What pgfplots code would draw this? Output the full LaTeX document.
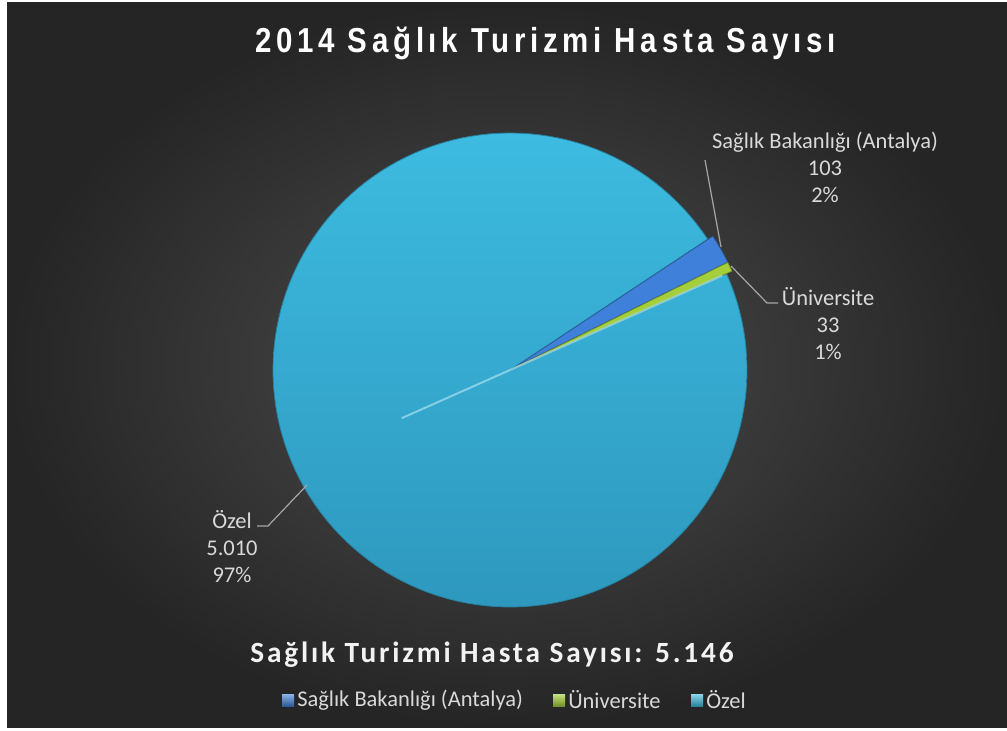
\documentclass[border=0pt]{standalone}
\usepackage{pgfplots}
\pgfplotsset{compat=1.18}
\usepackage{pgfplotstable}
\usepackage{fontspec}
\setmainfont{Carlito}
\newfontfamily\titlefam{Liberation Sans}[LetterSpace=16]
\newfontfamily\subfam{Carlito}[LetterSpace=9.6]
\definecolor{bgin}{HTML}{4D4D4D}
\definecolor{bgout}{HTML}{252525}
\definecolor{ozel}{HTML}{3DBBE0}
\definecolor{ozeldark}{HTML}{2E98BE}
\definecolor{saglik}{HTML}{3F80DA}
\definecolor{univ}{HTML}{A4CF3A}
\definecolor{lbl}{HTML}{D9D9D9}
\definecolor{leader}{HTML}{A6A6A6}

\pgfplotstableread{
label value
Saglik 103
Universite 33
Ozel 5010
}\piedata

\begin{document}
\begin{tikzpicture}
\pgfplotstablegetelem{0}{value}\of\piedata \pgfmathsetmacro\va{\pgfplotsretval}
\pgfplotstablegetelem{1}{value}\of\piedata \pgfmathsetmacro\vb{\pgfplotsretval}
\pgfplotstablegetelem{2}{value}\of\piedata \pgfmathsetmacro\vc{\pgfplotsretval}
\pgfmathsetmacro\tot{\va+\vb+\vc}
\pgfmathsetmacro\fa{\va/\tot}
\pgfmathsetmacro\fb{\vb/\tot}
\pgfmathsetmacro\fc{\vc/\tot}
\pgfmathsetmacro\aA{33.5}
\pgfmathsetmacro\aB{\aA-360*\fa}
\pgfmathsetmacro\aC{\aB-360*\fb}
\pgfmathsetmacro\aD{\aC-360*\fc}
\pgfmathsetmacro\mA{(\aA+\aB)/2}
\pgfmathsetmacro\mB{(\aB+\aC)/2}
\pgfmathsetmacro\dxA{0.025*cos(\mA)}
\pgfmathsetmacro\dyA{0.025*sin(\mA)}
\pgfmathsetmacro\dxB{0.025*cos(\mB)}
\pgfmathsetmacro\dyB{0.025*sin(\mB)}
\begin{scope}[x=0.75pt,y=-0.75pt]
\fill[white] (0,0) rectangle (1007,731);
\shade[inner color=bgin, outer color=bgout] (7,3) rectangle (1007,727);
\end{scope}
\begin{axis}[at={(382.5pt,-277.5pt)}, anchor=center, scale only axis,
  width=355.5pt, height=355.5pt, xmin=-1, xmax=1, ymin=-1, ymax=1,
  hide axis, clip=false]
\addplot[draw=ozeldark!85!black, line width=0.6pt, top color=ozel, bottom color=ozeldark, domain=\aD:\aC, samples=150] ({cos(x)},{sin(x)}) -- (0,0) -- cycle;
\addplot[draw=saglik!70!black, line width=0.5pt, fill=saglik, domain=\aB:\aA, samples=10] ({cos(x)+\dxA},{sin(x)+\dyA}) -- (\dxA,\dyA) -- cycle;
\addplot[draw=univ!70!black, line width=0.5pt, fill=univ, domain=\aC:\aB, samples=5] ({cos(x)+\dxB},{sin(x)+\dyB}) -- (\dxB,\dyB) -- cycle;
\addplot[draw=ozel!45!white, opacity=0.7, line width=1.5pt, domain=-0.5:0.98, samples=2, variable=\t] ({\t*cos(\aC)},{\t*sin(\aC)});
\end{axis}
\begin{scope}[x=0.75pt,y=-0.75pt]
% title
\node[white, font=\titlefam\bfseries\fontsize{26}{30}\selectfont] at (545.5,43) {\scalebox{0.85}[1]{2014 Sağlık Turizmi Hasta Sayısı}};
% leaders
\draw[leader, line width=0.9pt] (705,160) -- (721,247);
\draw[leader, line width=0.9pt] (731,266) -- (767,303) -- (778,303);
\draw[leader, line width=0.9pt] (307,485) -- (268,526) -- (257,526);
% labels
\node[lbl, align=center, font=\fontsize{16.85}{20.25}\selectfont] at (825,167) {Sağlık Bakanlığı (Antalya)\\103\\2\%};
\node[lbl, align=center, font=\fontsize{16.85}{20.25}\selectfont] at (828,324) {Üniversite\\33\\1\%};
\node[lbl, align=center, font=\fontsize{16.85}{20.25}\selectfont] at (232,547) {Özel\\5.010\\97\%};
% subtitle
\node[white!95!black, font=\subfam\bfseries\fontsize{22}{26}\selectfont] at (492,655) {Sağlık Turizmi Hasta Sayısı: 5.146};
% legend
\shade[top color=saglik!60!white, bottom color=saglik!70!black] (282,694) rectangle (294,706);
\shade[top color=univ!60!white, bottom color=univ!70!black] (553,694) rectangle (565,706);
\shade[top color=ozel!60!white, bottom color=ozel!70!black] (691,694) rectangle (703,706);
\node[lbl, anchor=west, inner sep=0pt, font=\fontsize{16.85}{19}\selectfont] at (297,700) {Sağlık Bakanlığı (Antalya)};
\node[lbl, anchor=west, inner sep=0pt, font=\fontsize{16.85}{19}\selectfont] at (568,700) {Üniversite};
\node[lbl, anchor=west, inner sep=0pt, font=\fontsize{16.85}{19}\selectfont] at (706,700) {Özel};
\end{scope}
\end{tikzpicture}
\end{document}
